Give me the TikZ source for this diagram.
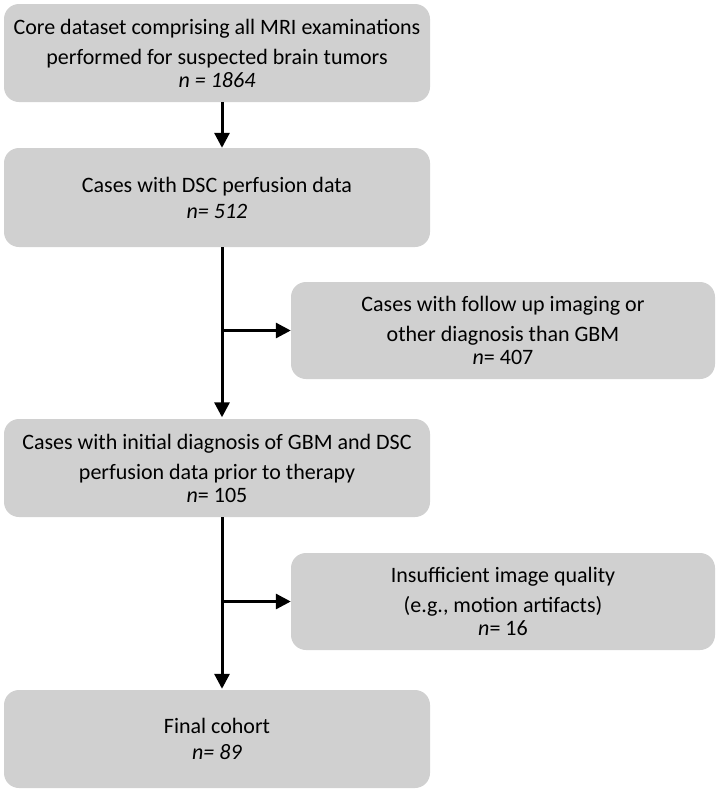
\documentclass[tikz,border=0pt]{standalone}
\usepackage{fontspec}
\setmainfont{Carlito}
\usetikzlibrary{arrows.meta}
\begin{document}
\begin{tikzpicture}[x=1pt,y=-1pt,
  box/.style={draw=none, fill=boxgray, rounded corners=15pt, inner sep=0pt,
    minimum width=426pt, align=center,
    font=\fontsize{22}{30}\selectfont},
  flow/.style={line width=3pt, -{Triangle[length=15pt,width=15pt]}}]
\definecolor{boxgray}{HTML}{D0D0D0}
\useasboundingbox (0,0) rectangle (720,793);
% main column
\node[box, minimum height=98pt] (b1) at (217,53)
  {Core dataset comprising all MRI examinations\\performed for suspected brain tumors\\[-7pt]\textit{n = 1864}};
\node[box, minimum height=99pt] (b2) at (217,197.5)
  {Cases with DSC perfusion data\\[-4pt]\textit{n= 512}};
\node[box, minimum height=98pt] (b4) at (217,468)
  {Cases with initial diagnosis of GBM and DSC\\perfusion data prior to therapy\\[-7pt]\textit{n}= 105};
\node[box, minimum height=98pt] (b6) at (217,739)
  {Final cohort\\[-4pt]\textit{n= 89}};
% exclusion boxes
\node[box, minimum width=424pt, minimum height=97pt] (b3) at (503,330.5)
  {Cases with follow up imaging or\\other diagnosis than GBM\\[-7pt]\textit{n}= 407};
\node[box, minimum width=424pt, minimum height=97pt] (b5) at (503,601.5)
  {Insufficient image quality\\(e.g., motion artifacts)\\[-7pt]\textit{n}= 16};
% connectors
\draw[flow] ([xshift=5pt]b1.south) -- ([xshift=5pt]b2.north);
\draw[flow] ([xshift=5pt]b2.south) -- ([xshift=5pt,yshift=1.5pt]b4.north);
\draw[flow] ([xshift=5pt]b2.south |- b3.west) -- (b3.west);
\draw[flow] ([xshift=5pt]b4.south) -- ([xshift=5pt,yshift=1pt]b6.north);
\draw[flow] ([xshift=5pt]b4.south |- b5.west) -- (b5.west);
\end{tikzpicture}
\end{document}
